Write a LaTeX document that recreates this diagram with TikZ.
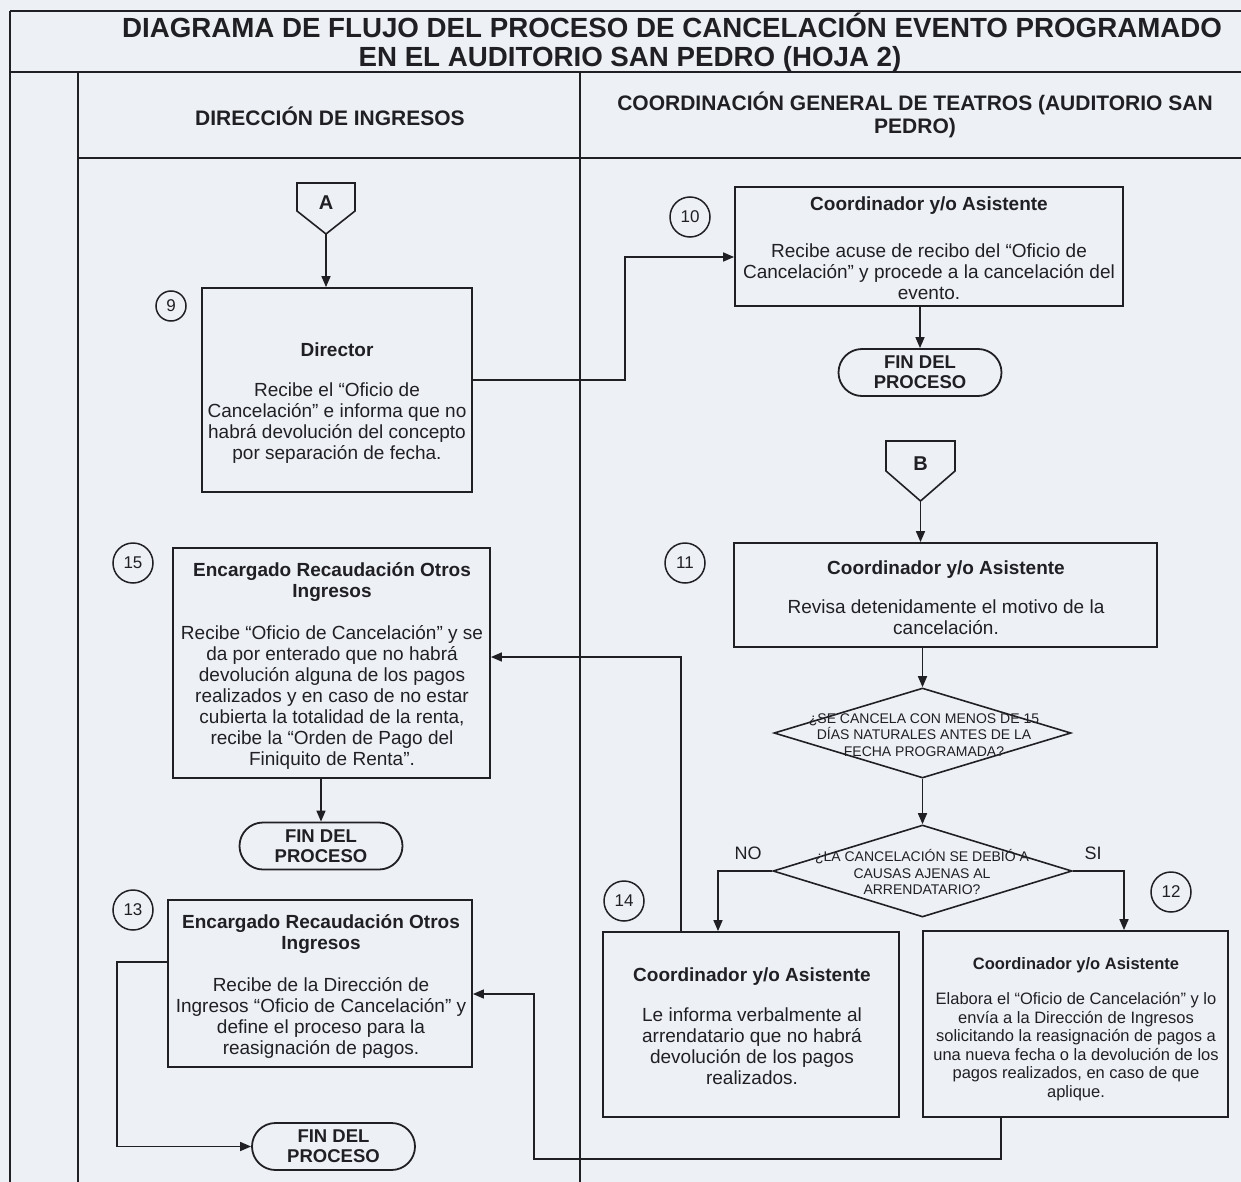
\documentclass[tikz,border=0pt]{standalone}
\usepackage{fontspec}
\setmainfont{Liberation Sans}
\usetikzlibrary{arrows.meta,shapes.geometric,shapes.misc,calc}
\definecolor{paper}{RGB}{237,240,245}
\definecolor{ink}{RGB}{32,32,36}

\begin{document}
\begin{tikzpicture}[x=1pt,y=-1pt,
  ln/.style={draw=ink,line width=1.7pt},
  arr/.style={draw=ink,line width=1.6pt,-{Triangle[length=11pt,width=9pt]}},
  stepbox/.style={draw=ink,line width=1.8pt,rectangle,inner sep=0pt},
  txt/.style={text=ink,align=center,inner sep=0pt,font=\fontsize{19}{21}\selectfont},
  smalltxt/.style={text=ink,align=center,inner sep=0pt,font=\fontsize{16.5}{18.5}\selectfont},
  dtxt/.style={text=ink,align=center,inner sep=0pt,font=\fontsize{14}{16.5}\selectfont},
  num/.style={circle,draw=ink,line width=1.5pt,minimum size=40pt,inner sep=0pt,text=ink,font=\fontsize{17}{17}\selectfont},
  term/.style={rounded rectangle,draw=ink,line width=1.8pt,minimum width=163pt,minimum height=47pt,inner sep=0pt,align=center,text=ink,font=\bfseries\fontsize{18.5}{20}\selectfont},
  decision/.style={diamond,draw=ink,line width=1.6pt,inner sep=0pt},
  hdr/.style={text=ink,align=center,inner sep=0pt,font=\bfseries\fontsize{21}{23}\selectfont},
  ttl/.style={text=ink,inner sep=0pt,anchor=base,font=\bfseries\fontsize{27.7}{30}\selectfont},
  conn/.style={text=ink,inner sep=0pt,font=\bfseries\fontsize{20}{20}\selectfont},
  yn/.style={text=ink,inner sep=0pt,font=\fontsize{18}{18}\selectfont},
]
\useasboundingbox (0,0) rectangle (1241,1182);
\fill[paper] (0,0) rectangle (1241,1182);

% page frame and swimlanes
\draw[ln] (10,11) -- (1241,11);
\draw[ln] (10,11) -- (10,1182);
\draw[ln] (10,72) -- (1241,72);
\draw[ln] (78,72) -- (78,1182);
\draw[ln] (580,72) -- (580,1182);
\draw[ln] (78,158) -- (1241,158);

% title
\node[ttl] (title1) at (672,38) {DIAGRAMA DE FLUJO DEL PROCESO DE CANCELACIÓN EVENTO PROGRAMADO};
\node[ttl] (title2) at (630,67) {EN EL AUDITORIO SAN PEDRO (HOJA 2)};

% lane headers
\node[hdr] (laneL) at (330,116) {DIRECCIÓN DE INGRESOS};
\node[hdr] (laneR) at (915,115) {COORDINACIÓN GENERAL DE TEATROS (AUDITORIO SAN\\PEDRO)};

% off-page connectors
\draw[ln,line width=1.6pt] (297,183) -- (355,183) -- (355,211) -- (326,234) -- (297,211) -- cycle;
\node[conn] (conA) at (326,203) {A};
\coordinate (conAtip) at (326,234);
\draw[ln,line width=1.6pt] (886,441) -- (955,441) -- (955,471) -- (920.5,501) -- (886,471) -- cycle;
\node[conn] (conB) at (920.5,464) {B};
\coordinate (conBtip) at (920.5,501);

% process boxes
\node[stepbox,minimum width=270pt,minimum height=204pt] (b9) at (337,390) {};
\node[txt] (b9t) at (337,403) {\textbf{Director}\\[19pt]Recibe el “Oficio de\\Cancelación” e informa que no\\habrá devolución del concepto\\por separación de fecha.};

\node[stepbox,minimum width=388pt,minimum height=119pt] (b10) at (929,246.5) {};
\node[txt] (b10t) at (929,248) {\textbf{Coordinador y/o Asistente}\\[26pt]Recibe acuse de recibo del “Oficio de\\Cancelación” y procede a la cancelación del\\evento.};

\node[stepbox,minimum width=423pt,minimum height=104pt] (b11) at (945.5,595) {};
\node[txt] (b11t) at (946,598) {\textbf{Coordinador y/o Asistente}\\[18pt]Revisa detenidamente el motivo de la\\cancelación.};

\node[stepbox,minimum width=317pt,minimum height=230pt] (b15) at (331.5,663) {};
\node[txt] (b15t) at (332,665.5) {\textbf{Encargado Recaudación Otros}\\\textbf{Ingresos}\\[21pt]Recibe “Oficio de Cancelación” y se\\da por enterado que no habrá\\devolución alguna de los pagos\\realizados y en caso de no estar\\cubierta la totalidad de la renta,\\recibe la “Orden de Pago del\\Finiquito de Renta”.};

\node[stepbox,minimum width=304pt,minimum height=167pt] (b13) at (320,983.5) {};
\node[txt] (b13t) at (321,986.5) {\textbf{Encargado Recaudación Otros}\\\textbf{Ingresos}\\[21pt]Recibe de la Dirección de\\Ingresos “Oficio de Cancelación” y\\define el proceso para la\\reasignación de pagos.};

\node[stepbox,minimum width=296pt,minimum height=185pt] (b14) at (751,1024.5) {};
\node[txt] (b14t) at (752,1026.5) {\textbf{Coordinador y/o Asistente}\\[19pt]Le informa verbalmente al\\arrendatario que no habrá\\devolución de los pagos\\realizados.};

\node[stepbox,minimum width=305pt,minimum height=186pt] (b12) at (1075.5,1024) {};
\node[smalltxt] (b12t) at (1076,1029) {\textbf{Coordinador y/o Asistente}\\[17pt]Elabora el “Oficio de Cancelación” y lo\\envía a la Dirección de Ingresos\\solicitando la reasignación de pagos a\\una nueva fecha o la devolución de los\\pagos realizados, en caso de que\\aplique.};

% step numbers
\node[num,minimum size=30pt] (n9) at (171,306) {9};
\node[num] (n10) at (690,217) {10};
\node[num] (n11) at (685,563) {11};
\node[num] (n15) at (133,563) {15};
\node[num] (n13) at (133,910) {13};
\node[num] (n14) at (624,901) {14};
\node[num] (n12) at (1171,892) {12};

% terminators
\node[term] (fin1) at (920,372.5) {FIN DEL\\PROCESO};
\node[term] (fin2) at (321,846) {FIN DEL\\PROCESO};
\node[term] (fin3) at (333.5,1146.5) {FIN DEL\\PROCESO};

% decisions
\node[decision,minimum width=297pt,minimum height=90pt] (d1) at (922.5,733) {};
\node[dtxt] (d1t) at (924,735) {¿SE CANCELA CON MENOS DE 15\\DÍAS NATURALES ANTES DE LA\\FECHA PROGRAMADA?};
\node[decision,minimum width=299pt,minimum height=92pt] (d2) at (922.5,871) {};
\node[dtxt] (d2t) at (922,872) {¿LA CANCELACIÓN SE DEBIÓ A\\CAUSAS AJENAS AL\\ARRENDATARIO?};
\node[yn] (lno) at (748,853) {NO};
\node[yn] (lsi) at (1093,853) {SI};

% flow
\draw[arr] (conAtip) -- (conAtip |- b9.north);
\draw[arr] ([yshift=10pt]b9.east) -- ++(152,0) |- ([yshift=-10.5pt]b10.west);
\draw[arr] (fin1.north |- b10.south) -- (fin1.north);
\draw[arr] (conBtip) -- (conBtip |- b11.north);
\draw[arr] (d1.north |- b11.south) -- (d1.north);
\draw[arr] (d1.south) -- (d2.north);
\draw[arr] (d2.west) -| ([xshift=-33pt]b14.north);
\draw[arr] (d2.east) -| ([xshift=48.5pt]b12.north);
\draw[arr] ([xshift=-70pt]b14.north) |- ([yshift=6pt]b15.east);
\draw[arr] ([xshift=-74.5pt]b12.south) -- ++(0,41) -- ++(-467,0) |- ([yshift=-10.5pt]b13.east);
\draw[arr] (fin2.north |- b15.south) -- (fin2.north);
\draw[arr] ([yshift=21.5pt]b13.west) -- ++(-50,0) |- (fin3.west);
\end{tikzpicture}
\end{document}
